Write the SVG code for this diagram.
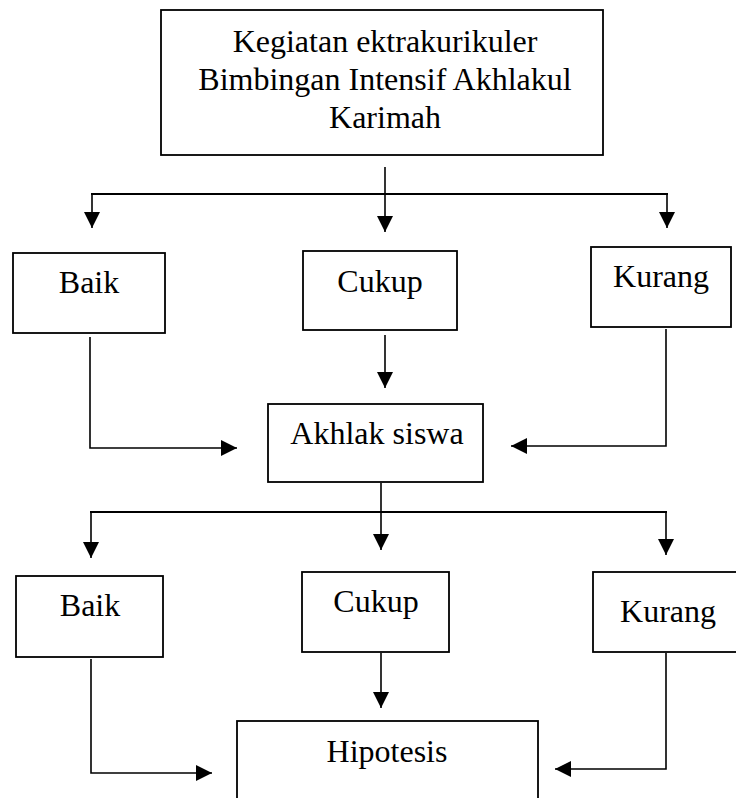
<svg xmlns="http://www.w3.org/2000/svg" width="736" height="798" viewBox="0 0 736 798">
  <style>
    .box { fill: #fff; stroke: #000; stroke-width: 1.8; }
    .lbl { font-family: "Liberation Serif", "Times New Roman", serif; font-size: 32px; fill: #000; text-anchor: middle; }
    .c { fill: none; stroke: #000; stroke-width: 1.6; }
    .h { fill: none; stroke: #000; stroke-width: 2.2; }
  </style>
  <defs>
    <marker id="arr" markerUnits="userSpaceOnUse" markerWidth="16" markerHeight="16" viewBox="0 0 15 15" refX="15" refY="7.5" orient="auto">
      <path d="M0,0 L15,7.5 L0,15 Z" fill="#000"/>
    </marker>
  </defs>
  <rect width="736" height="798" fill="#fff"/>

  <g id="n-top">
    <rect class="box" x="161" y="10" width="442" height="145"/>
    <text class="lbl" x="385" y="52">Kegiatan ektrakurikuler</text>
    <text class="lbl" x="385" y="90">Bimbingan Intensif Akhlakul</text>
    <text class="lbl" x="385" y="128">Karimah</text>
  </g>

  <g id="n-baik1">
    <rect class="box" x="13" y="253" width="152" height="80"/>
    <text class="lbl" x="89" y="293">Baik</text>
  </g>
  <g id="n-cukup1">
    <rect class="box" x="303" y="251" width="154" height="79"/>
    <text class="lbl" x="380" y="292">Cukup</text>
  </g>
  <g id="n-kurang1">
    <rect class="box" x="591" y="247" width="140" height="80"/>
    <text class="lbl" x="661" y="287">Kurang</text>
  </g>

  <g id="n-akhlak">
    <rect class="box" x="268" y="404" width="215" height="78"/>
    <text class="lbl" x="377" y="444">Akhlak siswa</text>
  </g>

  <g id="n-baik2">
    <rect class="box" x="16" y="576" width="147" height="81"/>
    <text class="lbl" x="90" y="616">Baik</text>
  </g>
  <g id="n-cukup2">
    <rect class="box" x="302" y="572" width="147" height="80"/>
    <text class="lbl" x="376" y="612">Cukup</text>
  </g>
  <g id="n-kurang2">
    <rect class="box" x="593" y="572" width="155" height="80"/>
    <text class="lbl" x="668" y="622">Kurang</text>
  </g>

  <g id="n-hipotesis">
    <rect class="box" x="237" y="721" width="301" height="90"/>
    <text class="lbl" x="387" y="762">Hipotesis</text>
  </g>

  <g id="connectors">
    <line class="c" x1="385" y1="167" x2="385" y2="232" marker-end="url(#arr)"/>
    <line class="h" x1="91" y1="194" x2="668" y2="194"/>
    <line class="c" x1="92" y1="194" x2="92" y2="228" marker-end="url(#arr)"/>
    <line class="c" x1="667" y1="194" x2="667" y2="228" marker-end="url(#arr)"/>

    <polyline class="c" points="90,337 90,448 237,448" marker-end="url(#arr)"/>
    <line class="c" x1="385" y1="335" x2="385" y2="388" marker-end="url(#arr)"/>
    <polyline class="c" points="666,329 666,446 511,446" marker-end="url(#arr)"/>

    <line class="c" x1="381" y1="483" x2="381" y2="550" marker-end="url(#arr)"/>
    <line class="h" x1="90" y1="512" x2="667" y2="512"/>
    <line class="c" x1="91" y1="512" x2="91" y2="558" marker-end="url(#arr)"/>
    <line class="c" x1="666" y1="512" x2="666" y2="555" marker-end="url(#arr)"/>

    <polyline class="c" points="91,659 91,773 212,773" marker-end="url(#arr)"/>
    <line class="c" x1="381" y1="653" x2="381" y2="708" marker-end="url(#arr)"/>
    <polyline class="c" points="666,653 666,769 555,769" marker-end="url(#arr)"/>
  </g>
</svg>
